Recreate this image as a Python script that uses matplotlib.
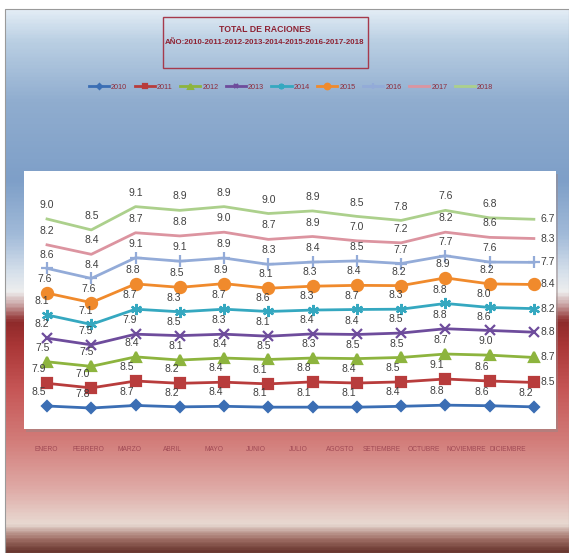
import numpy as np
import matplotlib
matplotlib.use("Agg")
import matplotlib.pyplot as plt
from matplotlib.colors import LinearSegmentedColormap
from matplotlib.patches import Rectangle

plt.rcParams['font.family'] = ['Liberation Sans Narrow', 'Liberation Sans', 'DejaVu Sans']

months = ['ENERO', 'FEBRERO', 'MARZO', 'ABRIL', 'MAYO', 'JUNIO', 'JULIO',
          'AGOSTO', 'SETIEMBRE', 'OCTUBRE', 'NOVIEMBRE', 'DICIEMBRE']
years = ['2010', '2011', '2012', '2013', '2014', '2015', '2016', '2017', '2018']

v2010 = [8.5, 7.8, 8.7, 8.2, 8.4, 8.1, 8.1, 8.1, 8.4, 8.8, 8.6, 8.2]
v2011 = [7.9, 7.0, 8.5, 8.2, 8.4, 8.1, 8.8, 8.4, 8.5, 9.1, 8.6, 8.5]
v2012 = [7.5, 7.5, 8.4, 8.1, 8.4, 8.5, 8.3, 8.5, 8.5, 8.7, 9.0, 8.7]
v2013 = [8.2, 7.5, 7.9, 8.5, 8.3, 8.1, 8.4, 8.4, 8.5, 8.8, 8.6, 8.8]
v2014 = [8.1, 7.1, 8.7, 8.3, 8.7, 8.6, 8.3, 8.7, 8.3, 8.8, 8.0, 8.2]
v2015 = [7.6, 7.6, 8.8, 8.5, 8.9, 8.1, 8.3, 8.4, 8.2, 8.9, 8.2, 8.4]
v2016 = [8.6, 8.4, 9.1, 9.1, 8.9, 8.3, 8.4, 8.5, 7.7, 7.7, 7.6, 7.7]
v2017 = [8.2, 8.4, 8.7, 8.8, 9.0, 8.7, 8.9, 7.0, 7.2, 8.2, 8.6, 8.3]
v2018 = [9.0, 8.5, 9.1, 8.9, 8.9, 9.0, 8.9, 8.5, 7.8, 7.6, 6.8, 6.7]
series = [v2010, v2011, v2012, v2013, v2014, v2015, v2016, v2017, v2018]

colors = ['#3b6eb4', '#b83c3c', '#8db43e', '#6e4c9c', '#35a8c0',
          '#f08a2c', '#93abd8', '#dc94a0', '#acd08c']
markers = ['D', 's', '^', 'x', (6, 2, 0), 'o', '+', None, None]
msizes = [5, 7, 7, 7, 8, 8, 8, 0, 0]
label_dx = [-6, -6, -3, -4, -4, -2, 0, 0, 0]  # label shift in points

W, H = 569, 553
fig = plt.figure(figsize=(W / 100, H / 100), dpi=100)

# background gradient of the chart area
stops = [(9, '#e2ecf5'), (40, '#bacfe3'), (100, '#90adcf'), (180, '#7e9fc8'),
         (235, '#a2bbd9'), (272, '#d6e0eb'), (292, '#eeeeee'), (305, '#c9a2a2'),
         (322, '#8e2a2a'), (345, '#a93636'), (390, '#c65656'), (440, '#d27b78'),
         (490, '#dfaaa6'), (526, '#e8dad2'), (540, '#a27168'), (553, '#6a3830')]
pos = [(y - 9) / (553 - 9) for y, c in stops]
cmap = LinearSegmentedColormap.from_list('bg', list(zip(pos, [c for y, c in stops])))
bg = fig.add_axes([5 / W, 0, (W - 5) / W, (H - 9) / H], zorder=-5)
bg.imshow(np.linspace(0, 1, 400).reshape(-1, 1), aspect='auto', cmap=cmap,
          extent=[0, 1, 1, 0])
bg.set_axis_off()
bg.add_patch(Rectangle((0, 0), 1, 1, transform=bg.transAxes, fill=False,
                       edgecolor='#9a9a9a', linewidth=0.8, clip_on=False))
# plot area shadow
bg.add_patch(Rectangle((21 / 564, 1 - 423 / 544), 532 / 564, 258 / 544,
                       transform=bg.transAxes, facecolor='#9a8888', edgecolor='none',
                       alpha=0.5))

# title box
fig.add_artist(Rectangle((163 / W, 1 - 68 / H), 205 / W, 51 / H, transform=fig.transFigure,
                         fill=False, edgecolor='#a63a4c', linewidth=1.0))
fig.text(265 / W, 1 - 29 / H, 'TOTAL DE RACIONES', ha='center', va='center',
         fontsize=6.3, fontweight='bold', color='#8e2233')
fig.text(265 / W, 1 - 43 / H, 'AÑO:2010-2011-2012-2013-2014-2015-2016-2017-2018',
         ha='center', va='center', fontsize=5.7, fontweight='bold', color='#8e2233')

ax = fig.add_axes([24 / W, 1 - 429 / H, 532 / W, 258 / H])
ax.set_facecolor('white')
for s in ax.spines.values():
    s.set_visible(False)

x = np.arange(len(months))
cum = np.zeros(len(months))
handles = []
for i, (vals, yr) in enumerate(zip(series, years)):
    vals = np.array(vals)
    cum = cum + vals
    ln, = ax.plot(x, cum, color=colors[i], linewidth=2.0, marker=markers[i],
                  markersize=msizes[i], markeredgewidth=1.6, label=yr)
    handles.append(ln)
    for j in range(len(months)):
        if j == len(months) - 1 and i > 0:
            ax.annotate('%.1f' % vals[j], (x[j], cum[j]), xytext=(5, 0),
                        textcoords='offset points', ha='left', va='center',
                        fontsize=7.5, color='#404040')
        else:
            ax.annotate('%.1f' % vals[j], (x[j], cum[j]), xytext=(label_dx[i], 10),
                        textcoords='offset points', ha='center', va='center',
                        fontsize=7.5, color='#404040')

ax.set_xlim(-0.52, 11.5)
ax.set_ylim(0.5, 90.3)
ax.set_xticks([])
ax.set_yticks([])

# category labels
cax = fig.add_axes([25 / W, 1 - 429 / H, 504 / W, 0.001])
cax.set_xlim(-0.5, 11.5)
cax.set_xticks(x)
cax.set_xticklabels(months, fontsize=4.8, color='#a04a55')
cax.tick_params(axis='x', length=0, pad=12)
cax.set_yticks([])
for s in cax.spines.values():
    s.set_visible(False)
cax.patch.set_alpha(0)

leg = fig.legend(handles=handles, loc='center', bbox_to_anchor=(291 / W, 1 - 87 / H),
                 ncol=9, frameon=False, fontsize=5.2, handlelength=2.8,
                 columnspacing=1.0, handletextpad=0.3, markerscale=0.5)
for t in leg.get_texts():
    t.set_color('#8e2b3b')

fig.savefig('out.png', dpi=100)
